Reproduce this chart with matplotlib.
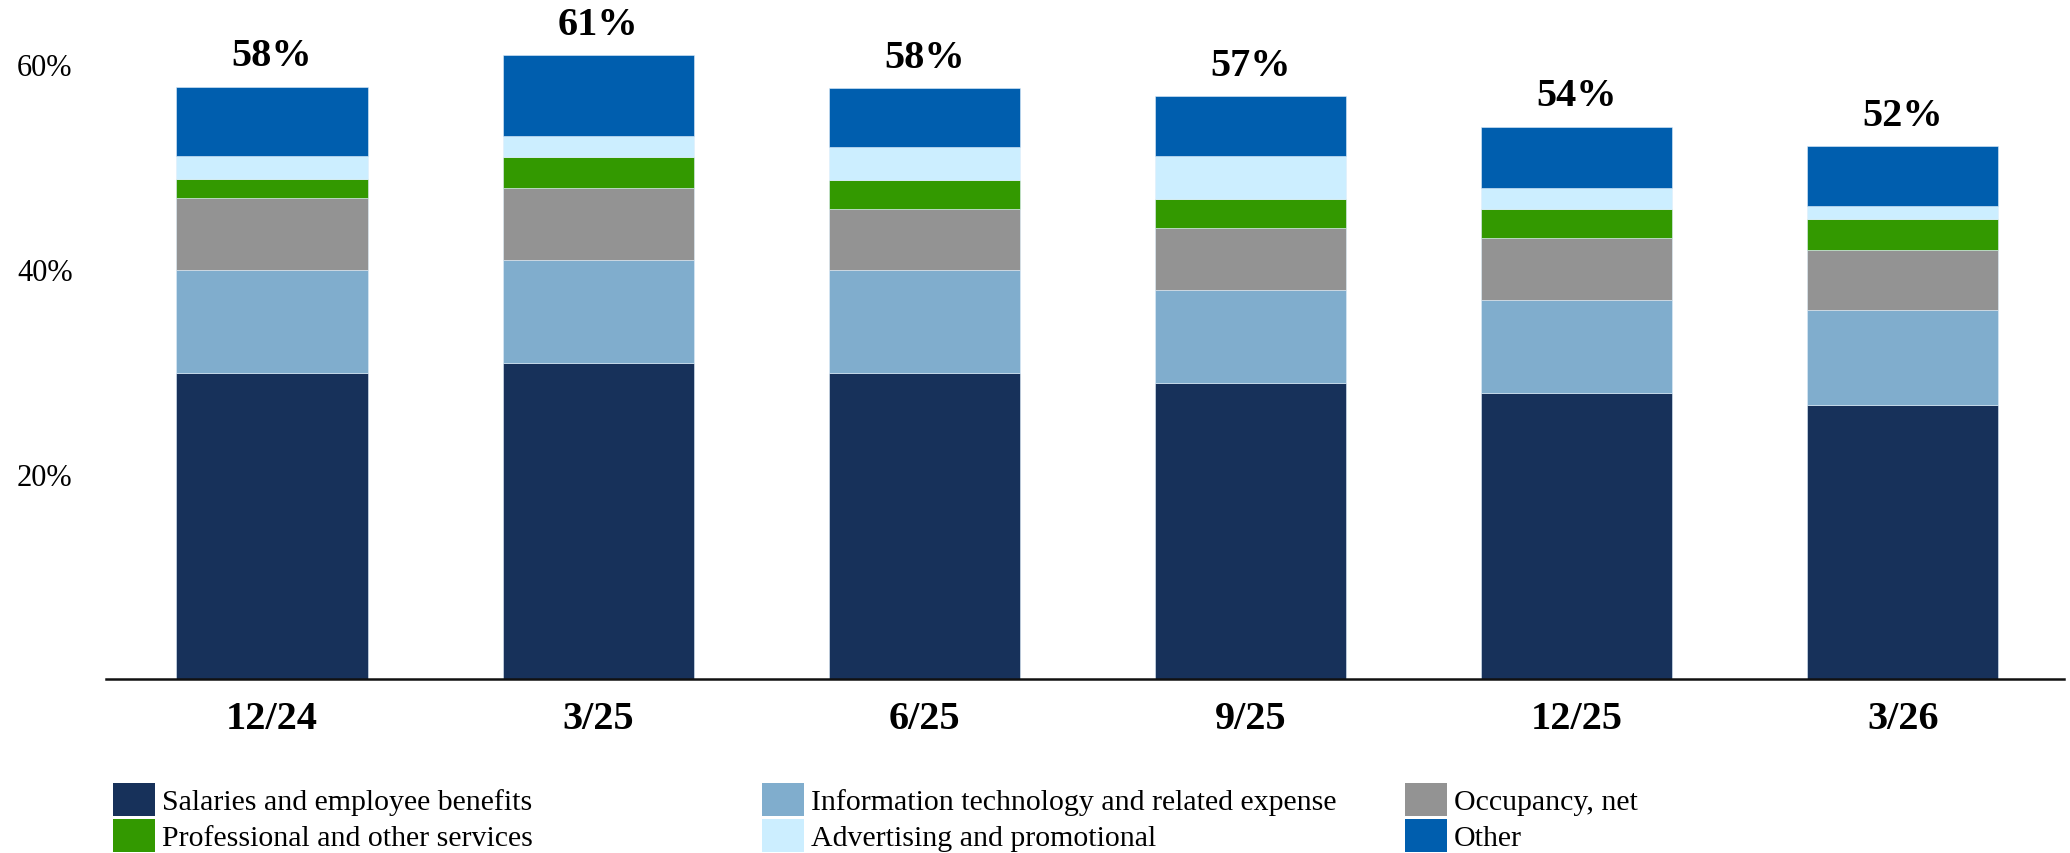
import matplotlib
matplotlib.use("Agg")
import matplotlib.pyplot as plt
import numpy as np
from matplotlib.patches import Patch

plt.rcParams["font.family"] = ["Liberation Serif", "DejaVu Serif"]

periods = ["12/24", "3/25", "6/25", "9/25", "12/25", "3/26"]
series_names = [
    "Salaries and employee benefits",
    "Information technology and related expense",
    "Occupancy, net",
    "Professional and other services",
    "Advertising and promotional",
    "Other",
]
salaries = [29.9, 30.8, 29.9, 28.9, 27.9, 26.7]
info_tech = [10.0, 10.1, 10.0, 9.1, 9.1, 9.3]
occupancy = [7.0, 7.0, 6.0, 6.0, 6.0, 5.9]
professional = [1.9, 3.0, 2.8, 2.8, 2.9, 3.0]
advertising = [2.2, 2.1, 3.2, 4.2, 2.0, 1.2]
other = [6.8, 7.9, 5.8, 5.9, 6.0, 5.9]
totals = ["58%", "61%", "58%", "57%", "54%", "52%"]
yticks = [20, 40, 60]
ytick_labels = ["20%", "40%", "60%"]

colors = ["#17315a", "#80adcd", "#939393", "#339900", "#cceeff", "#005eae"]
stack = [salaries, info_tech, occupancy, professional, advertising, other]

W, H = 2070, 854
fig = plt.figure(figsize=(W / 100, H / 100), dpi=100)
ax = fig.add_axes([106 / W, 174 / H, (2064 - 106) / W, 65 * 10.25 / H])

x = np.arange(len(periods))
bottom = np.zeros(len(periods))
for vals, col in zip(stack, colors):
    ax.bar(x, vals, 0.586, bottom=bottom, color=col, edgecolor="#dfeefa", linewidth=0.4)
    bottom += np.array(vals)

for xi, top, lab in zip(x, bottom, totals):
    ax.annotate(lab, (xi, top), xytext=(0, 22), textcoords="offset points",
                ha="center", va="center", fontsize=29, fontweight="bold")

ax.set_xlim(-0.509, 5.494)
ax.set_ylim(0, 65)
ax.set_yticks(yticks)
ax.set_yticklabels(ytick_labels, fontsize=22)
ax.set_xticks(x)
ax.set_xticklabels(periods, fontsize=29, fontweight="bold")
ax.tick_params(axis="y", length=0, pad=24)
ax.tick_params(axis="x", length=0, pad=15)
for s in ["top", "right", "left"]:
    ax.spines[s].set_visible(False)
ax.spines["bottom"].set_linewidth(1.8)
ax.spines["bottom"].set_color("#111111")

# legend: three columns, two rows
col_x = [113, 762, 1405]
for c in range(3):
    items = [c, c + 3]
    handles = [Patch(facecolor=colors[i], edgecolor="none") for i in items]
    labels = [series_names[i] for i in items]
    fig.legend(handles, labels, loc="upper left",
               bbox_to_anchor=(col_x[c] / W, 1 - 784 / H),
               frameon=False, fontsize=21.5, borderpad=0, borderaxespad=0,
               handlelength=1.4, handleheight=1.3, handletextpad=0.24,
               labelspacing=0.12)

fig.savefig("out.png", dpi=100)
